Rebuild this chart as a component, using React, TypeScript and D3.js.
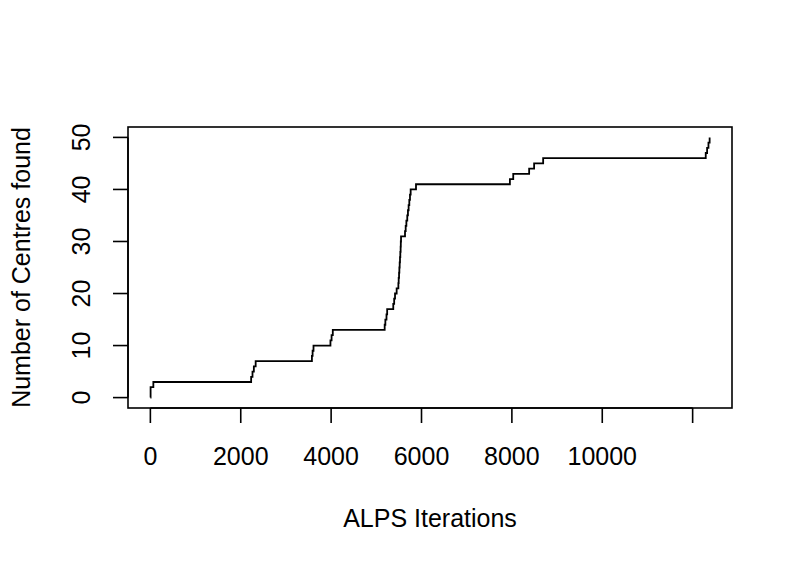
import { useEffect, useRef } from 'react'
import * as d3 from 'd3'

// iteration at which the running count of centres changed, and the count after it
const iterations = [
  0, 5, 66, 2230, 2260, 2290, 2330, 3575, 3590, 3610, 3985, 4010, 4037,
  5185, 5200, 5225, 5240, 5375, 5395, 5414, 5450, 5488, 5495, 5503, 5510,
  5517, 5524, 5531, 5538, 5542, 5547, 5635, 5650, 5665, 5685, 5700, 5715,
  5730, 5745, 5760, 5878, 7956, 8030, 8382, 8492, 8692, 12290, 12320, 12350, 12376,
]
const centresFound = [
  0, 2, 3, 4, 5, 6, 7, 8, 9, 10, 11, 12, 13,
  14, 15, 16, 17, 18, 19, 20, 21, 22, 23, 24, 25,
  26, 27, 28, 29, 30, 31, 32, 33, 34, 35, 36, 37,
  38, 39, 40, 41, 42, 43, 44, 45, 46, 47, 48, 49, 50,
]

const xTicks = [0, 2000, 4000, 6000, 8000, 10000, 12000]
const xTickLabels = ['0', '2000', '4000', '6000', '8000', '10000', '']
const yTicks = [0, 10, 20, 30, 40, 50]

const xTitle = 'ALPS Iterations'
const yTitle = 'Number of Centres found'

export default function App() {
  const ref = useRef<SVGSVGElement>(null)

  useEffect(() => {
    document.body.style.margin = '0'
    const width = 797
    const height = 568
    const box = { left: 128, right: 732, top: 127, bottom: 408 }
    const font = '"Liberation Sans", Arial, Helvetica, sans-serif'
    const fs = 25

    const svg = d3.select(ref.current)
    svg.selectAll('*').remove()
    svg.attr('viewBox', `0 0 ${width} ${height}`)

    // R style: 4% padding on each side of the data range
    const [x0, x1] = d3.extent(iterations) as [number, number]
    const [y0, y1] = d3.extent(centresFound) as [number, number]
    const px = (x1 - x0) * 0.04
    const py = (y1 - y0) * 0.04
    const x = d3.scaleLinear().domain([x0 - px, x1 + px]).range([box.left, box.right])
    const y = d3.scaleLinear().domain([y0 - py, y1 + py]).range([box.bottom, box.top])

    svg.append('rect')
      .attr('width', width).attr('height', height).attr('fill', '#fff')

    const data = iterations.map((it, i) => [it, centresFound[i]] as [number, number])
    const line = d3.line<[number, number]>()
      .x(d => x(d[0]))
      .y(d => y(d[1]))
      .curve(d3.curveStepAfter)

    svg.append('path')
      .attr('d', line(data))
      .attr('fill', 'none')
      .attr('stroke', '#000')
      .attr('stroke-width', 1.8)

    // box
    svg.append('rect')
      .attr('x', box.left).attr('y', box.top)
      .attr('width', box.right - box.left).attr('height', box.bottom - box.top)
      .attr('fill', 'none').attr('stroke', '#000').attr('stroke-width', 1.6)

    const tickLen = 15

    // x axis
    svg.append('line')
      .attr('x1', x(xTicks[0])).attr('x2', x(xTicks[xTicks.length - 1]))
      .attr('y1', box.bottom).attr('y2', box.bottom)
      .attr('stroke', '#000').attr('stroke-width', 1.6)
    xTicks.forEach((t, i) => {
      svg.append('line')
        .attr('x1', x(t)).attr('x2', x(t))
        .attr('y1', box.bottom).attr('y2', box.bottom + tickLen)
        .attr('stroke', '#000').attr('stroke-width', 1.6)
      svg.append('text')
        .attr('x', x(t)).attr('y', 465)
        .attr('text-anchor', 'middle')
        .style('font-family', font).style('font-size', `${fs}px`)
        .text(xTickLabels[i])
    })

    // y axis
    svg.append('line')
      .attr('x1', box.left).attr('x2', box.left)
      .attr('y1', y(yTicks[0])).attr('y2', y(yTicks[yTicks.length - 1]))
      .attr('stroke', '#000').attr('stroke-width', 1.6)
    yTicks.forEach(t => {
      svg.append('line')
        .attr('x1', box.left - tickLen).attr('x2', box.left)
        .attr('y1', y(t)).attr('y2', y(t))
        .attr('stroke', '#000').attr('stroke-width', 1.6)
      svg.append('text')
        .attr('x', 90).attr('y', y(t))
        .attr('transform', `rotate(-90, 90, ${y(t)})`)
        .attr('text-anchor', 'middle')
        .style('font-family', font).style('font-size', `${fs}px`)
        .text(String(t))
    })

    // titles
    svg.append('text')
      .attr('x', (box.left + box.right) / 2).attr('y', 527)
      .attr('text-anchor', 'middle')
      .style('font-family', font).style('font-size', `${fs}px`)
      .text(xTitle)

    const cy = (box.top + box.bottom) / 2
    svg.append('text')
      .attr('x', 30).attr('y', cy)
      .attr('transform', `rotate(-90, 30, ${cy})`)
      .attr('text-anchor', 'middle')
      .style('font-family', font).style('font-size', `${fs}px`)
      .text(yTitle)
  }, [])

  return <svg ref={ref} width={797} height={568} style={{ display: 'block' }} />
}
